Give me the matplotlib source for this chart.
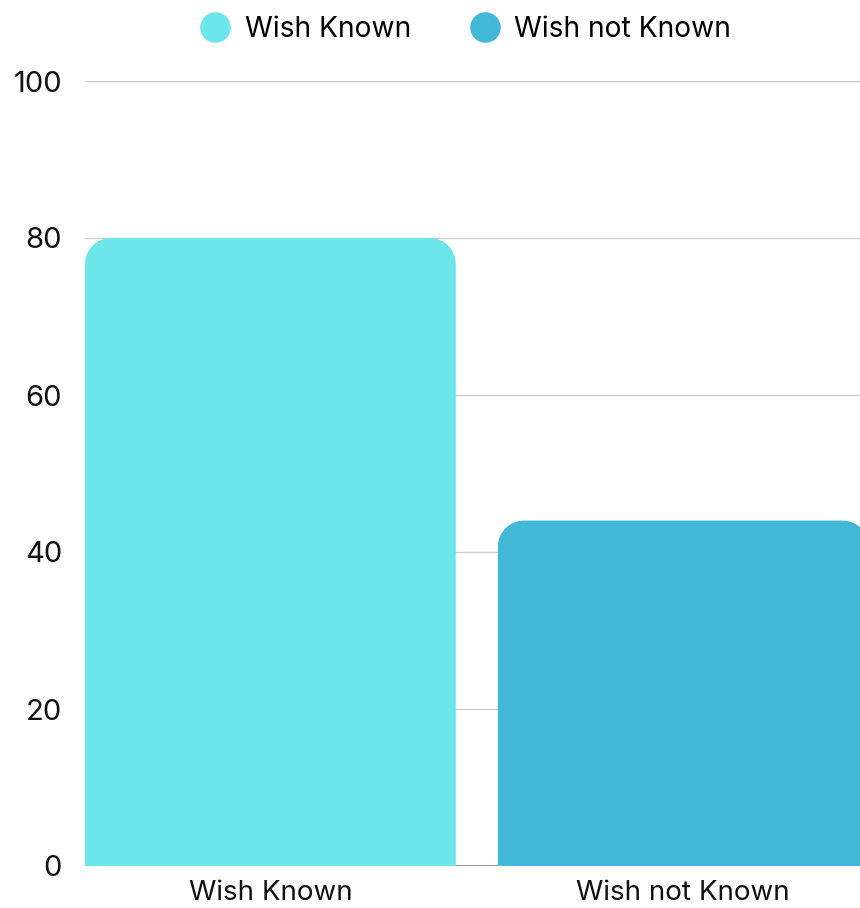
import matplotlib
matplotlib.use("Agg")
import matplotlib.pyplot as plt
from matplotlib.path import Path
from matplotlib.patches import PathPatch
from matplotlib.lines import Line2D

categories = ["Wish Known", "Wish not Known"]
values = [80, 44]
colors = ["#6DE6E9", "#42B8D6"]
yticks = [0, 20, 40, 60, 80, 100]

plt.rcParams['font.family'] = ['Inter', 'DejaVu Sans']

W, H = 860, 908
fig = plt.figure(figsize=(W/100, H/100), dpi=100)
ax = fig.add_axes([85/W, 42/H, 775/W, 785/H])
ax.set_ylim(0, 100)
ax.set_xlim(-0.449, 1.428)

bar_w = 0.898
px_x = (1.428 + 0.449) / 775.0
px_y = 100 / 785.0
r_px = 26
rx, ry = r_px * px_x, r_px * px_y
k = 0.5523

def rounded_top_bar(x0, x1, top):
    verts = [
        (x0, 0), (x0, top - ry),
        (x0, top - ry + k*ry), (x0 + rx - k*rx, top), (x0 + rx, top),
        (x1 - rx, top),
        (x1 - rx + k*rx, top), (x1, top - ry + k*ry), (x1, top - ry),
        (x1, 0), (x0, 0),
    ]
    codes = [Path.MOVETO, Path.LINETO,
             Path.CURVE4, Path.CURVE4, Path.CURVE4,
             Path.LINETO,
             Path.CURVE4, Path.CURVE4, Path.CURVE4,
             Path.LINETO, Path.CLOSEPOLY]
    return Path(verts, codes)

for g in yticks[1:]:
    ax.axhline(g, color="#cccccc", lw=1.0, zorder=0)
ax.axhline(0, color="#999999", lw=1.5, zorder=0)

for i, (v, c) in enumerate(zip(values, colors)):
    p = rounded_top_bar(i - bar_w/2, i + bar_w/2, v)
    ax.add_patch(PathPatch(p, facecolor=c, edgecolor="none", zorder=2, clip_on=True))

for s in ax.spines.values():
    s.set_visible(False)
ax.set_yticks(yticks)
ax.set_yticklabels([str(t) for t in yticks], fontsize=21, color="#111111")
ax.set_xticks(range(len(categories)))
ax.set_xticklabels(categories, fontsize=20, color="#111111")
ax.tick_params(axis='y', length=0, pad=16.5)
ax.tick_params(axis='x', length=0, pad=10)

handles = [Line2D([0], [0], marker='o', linestyle='none', markersize=22,
                  markerfacecolor=c, markeredgecolor='none') for c in colors]
fig.legend(handles, categories, loc='upper center', bbox_to_anchor=(0.542, 1.01),
           ncol=2, frameon=False, fontsize=20.3, handletextpad=0.55, columnspacing=2.1,
           handlelength=1.0)

fig.savefig("out.png", dpi=100)
